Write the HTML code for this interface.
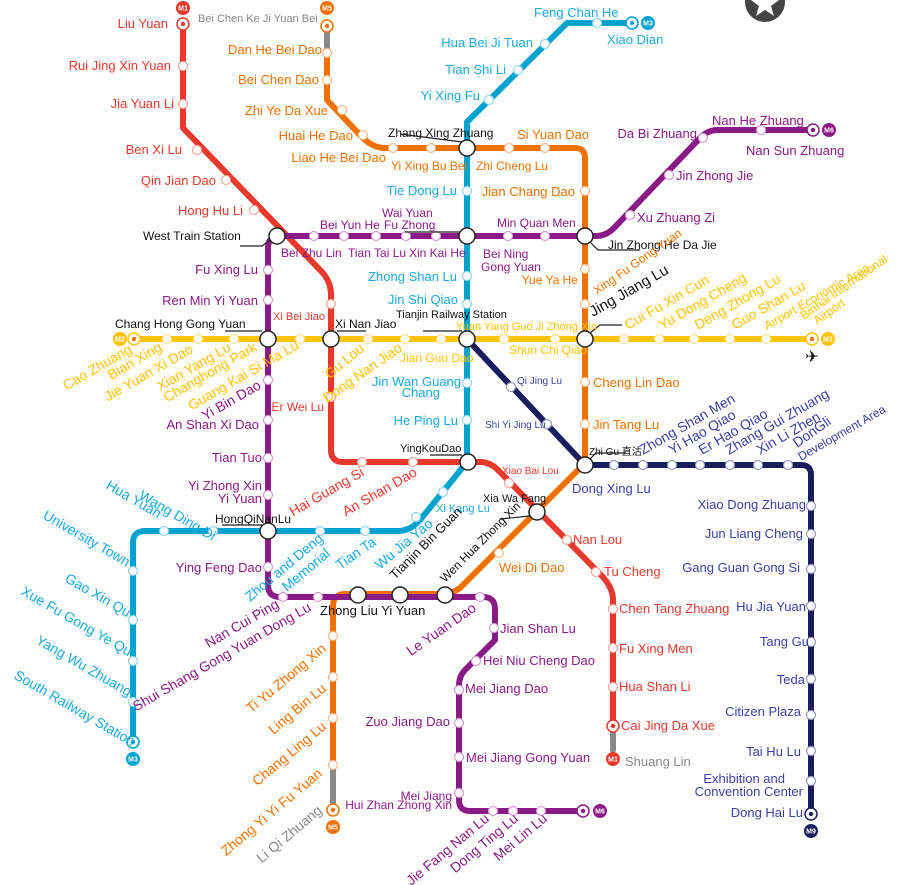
<!DOCTYPE html>
<html><head><meta charset="utf-8"><style>
html,body{margin:0;padding:0;background:#fff;}
svg{display:block;font-family:"Liberation Sans","DejaVu Sans",sans-serif;}
</style></head><body>
<svg width="900" height="885" viewBox="0 0 900 885" xmlns="http://www.w3.org/2000/svg">
<rect width="900" height="885" fill="#fff"/>
<circle cx="765" cy="2" r="20" fill="#444"/>
<polygon points="765,-10 769,0 779,0 771,6 774,16 765,10 756,16 759,6 751,0 761,0" fill="#fff"/>

<g fill="none" stroke-linejoin="round" stroke-linecap="round" stroke-width="6">
<path d="M632,23 L567,23 L467,122 L467,462 L420,520 Q410,531 398,531 L145,531 Q133,531 133,543 L133,742" stroke="#00a2cf"/>
<path d="M327,48 L327,100 L360,135 Q372,148 385,148 L575,148 Q585,148 585,158 L585,463 L460,588 Q452,594 440,594 L345,594 Q333,594 333,606 L333,770" stroke="#f07000"/>
<path d="M327,26 L327,48" stroke="#888"/>
<path d="M333,770 L333,810" stroke="#888"/>
<path d="M183,24 L183,128 L322,272 Q331,282 331,295 L331,450 Q331,462 343,462 L480,462 Q490,462 498,470 L602,576 Q613,588 613,600 L613,726" stroke="#e8392d"/>
<path d="M613,726 L613,750" stroke="#888"/>
<path d="M467,339 L585,465 L801,465 Q811,465 811,475 L811,814" stroke="#1b1d5c"/>
<path d="M134,339 L812,339" stroke="#fcc300"/>
<path d="M813,130 L717,130 Q708,130 700,138 L614,228 Q606,236 596,236 L280,236 Q268,236 268,248 L268,585 Q268,597 280,597 L483,597 Q495,597 495,609 L495,640 L465,670 Q459,676 459,686 L459,800 Q459,811 470,811 L583,811" stroke="#8a1a86"/>
</g>

<g fill="#fff" stroke-width="1.2">
<g stroke="#f3a39c">
<circle cx="183" cy="66" r="4.5"/><circle cx="183" cy="104" r="4.5"/><circle cx="197" cy="150" r="4.5"/><circle cx="226" cy="180" r="4.5"/><circle cx="254" cy="210" r="4.5"/><circle cx="331" cy="304" r="4.5"/><circle cx="331" cy="397" r="4.5"/><circle cx="362" cy="462" r="4.5"/><circle cx="413" cy="462" r="4.5"/><circle cx="509" cy="483" r="4.5"/><circle cx="567" cy="540" r="4.5"/><circle cx="596" cy="572" r="4.5"/><circle cx="613" cy="609" r="4.5"/><circle cx="613" cy="648" r="4.5"/><circle cx="613" cy="687" r="4.5"/>
</g>
<g stroke="#f8b98a">
<circle cx="327" cy="53" r="4.5"/><circle cx="327" cy="80" r="4.5"/><circle cx="342" cy="110" r="4.5"/><circle cx="363" cy="135" r="4.5"/><circle cx="393" cy="148" r="4.5"/><circle cx="431" cy="148" r="4.5"/><circle cx="509" cy="148" r="4.5"/><circle cx="545" cy="148" r="4.5"/><circle cx="585" cy="191" r="4.5"/><circle cx="585" cy="269" r="4.5"/><circle cx="585" cy="304" r="4.5"/><circle cx="585" cy="382" r="4.5"/><circle cx="585" cy="424" r="4.5"/><circle cx="499" cy="553" r="4.5"/><circle cx="333" cy="636" r="4.5"/><circle cx="333" cy="677" r="4.5"/><circle cx="333" cy="718" r="4.5"/><circle cx="333" cy="765" r="4.5"/>
</g>
<g stroke="#8fd6ee">
<circle cx="597" cy="23" r="4.5"/><circle cx="545" cy="44" r="4.5"/><circle cx="518" cy="70" r="4.5"/><circle cx="489" cy="100" r="4.5"/><circle cx="467" cy="191" r="4.5"/><circle cx="467" cy="276" r="4.5"/><circle cx="467" cy="304" r="4.5"/><circle cx="467" cy="383" r="4.5"/><circle cx="467" cy="420" r="4.5"/><circle cx="443" cy="492" r="4.5"/><circle cx="416" cy="517" r="4.5"/><circle cx="365" cy="531" r="4.5"/><circle cx="320" cy="531" r="4.5"/><circle cx="213" cy="531" r="4.5"/><circle cx="164" cy="531" r="4.5"/><circle cx="133" cy="571" r="4.5"/><circle cx="133" cy="620" r="4.5"/><circle cx="133" cy="661" r="4.5"/><circle cx="133" cy="702" r="4.5"/>
</g>
<g stroke="#fde28a">
<circle cx="167" cy="339" r="4.5"/><circle cx="198" cy="339" r="4.5"/><circle cx="234" cy="339" r="4.5"/><circle cx="300" cy="339" r="4.5"/><circle cx="368" cy="339" r="4.5"/><circle cx="405" cy="339" r="4.5"/><circle cx="441" cy="339" r="4.5"/><circle cx="504" cy="339" r="4.5"/><circle cx="555" cy="339" r="4.5"/><circle cx="624" cy="339" r="4.5"/><circle cx="659" cy="339" r="4.5"/><circle cx="694" cy="339" r="4.5"/><circle cx="730" cy="339" r="4.5"/><circle cx="766" cy="339" r="4.5"/>
</g>
<g stroke="#d79ad5">
<circle cx="761" cy="130" r="4.5"/><circle cx="703" cy="138" r="4.5"/><circle cx="669" cy="175" r="4.5"/><circle cx="630" cy="215" r="4.5"/><circle cx="545" cy="236" r="4.5"/><circle cx="508" cy="236" r="4.5"/><circle cx="436" cy="236" r="4.5"/><circle cx="406" cy="236" r="4.5"/><circle cx="376" cy="236" r="4.5"/><circle cx="344" cy="236" r="4.5"/><circle cx="314" cy="236" r="4.5"/><circle cx="268" cy="270" r="4.5"/><circle cx="268" cy="300" r="4.5"/><circle cx="268" cy="380" r="4.5"/><circle cx="268" cy="420" r="4.5"/><circle cx="268" cy="458" r="4.5"/><circle cx="268" cy="495" r="4.5"/><circle cx="268" cy="567" r="4.5"/><circle cx="283" cy="597" r="4.5"/><circle cx="318" cy="597" r="4.5"/><circle cx="480" cy="597" r="4.5"/><circle cx="494" cy="628" r="4.5"/><circle cx="476" cy="661" r="4.5"/><circle cx="459" cy="690" r="4.5"/><circle cx="459" cy="723" r="4.5"/><circle cx="459" cy="757" r="4.5"/><circle cx="459" cy="793" r="4.5"/><circle cx="493" cy="811" r="4.5"/><circle cx="513" cy="811" r="4.5"/><circle cx="541" cy="811" r="4.5"/>
</g>
<g stroke="#9a9ac0">
<circle cx="511" cy="387" r="4.5"/><circle cx="547" cy="424" r="4.5"/><circle cx="614" cy="465" r="4.5"/><circle cx="643" cy="465" r="4.5"/><circle cx="672" cy="465" r="4.5"/><circle cx="700" cy="465" r="4.5"/><circle cx="730" cy="465" r="4.5"/><circle cx="758" cy="465" r="4.5"/><circle cx="788" cy="465" r="4.5"/><circle cx="811" cy="506" r="4.5"/><circle cx="811" cy="534" r="4.5"/><circle cx="811" cy="569" r="4.5"/><circle cx="811" cy="606" r="4.5"/><circle cx="811" cy="642" r="4.5"/><circle cx="811" cy="679" r="4.5"/><circle cx="811" cy="715" r="4.5"/><circle cx="811" cy="751" r="4.5"/><circle cx="811" cy="781" r="4.5"/>
</g>
</g>

<g fill="#fff" stroke-width="1.5">
<circle cx="183" cy="24" r="6" stroke="#e8392d"/><circle cx="183" cy="24" r="2.2" fill="#e8392d"/>
<circle cx="613" cy="726" r="6" stroke="#e8392d"/><circle cx="613" cy="726" r="2.2" fill="#e8392d"/>
<circle cx="327" cy="26" r="6" stroke="#f07000"/><circle cx="327" cy="26" r="2.2" fill="#f07000"/>
<circle cx="333" cy="810" r="6" stroke="#f07000"/><circle cx="333" cy="810" r="2.2" fill="#f07000"/>
<circle cx="632" cy="23" r="6" stroke="#00a2cf"/><circle cx="632" cy="23" r="2.2" fill="#00a2cf"/>
<circle cx="133" cy="742" r="6" stroke="#00a2cf"/><circle cx="133" cy="742" r="2.2" fill="#00a2cf"/>
<circle cx="134" cy="339" r="6" stroke="#fcc300"/><circle cx="134" cy="339" r="2.2" fill="#f07000"/>
<circle cx="812" cy="339" r="6" stroke="#fcc300"/><circle cx="812" cy="339" r="2.2" fill="#f07000"/>
<circle cx="813" cy="130" r="6" stroke="#8a1a86"/><circle cx="813" cy="130" r="2.2" fill="#8a1a86"/>
<circle cx="583" cy="811" r="6" stroke="#8a1a86"/><circle cx="583" cy="811" r="2.2" fill="#8a1a86"/>
<circle cx="811" cy="814" r="6" stroke="#1b1d5c"/><circle cx="811" cy="814" r="2.2" fill="#1b1d5c"/>
</g>

<g fill="#fff" stroke="#222" stroke-width="1.5">
<circle cx="277" cy="236" r="8"/><circle cx="467" cy="148" r="8"/><circle cx="467" cy="236" r="8"/><circle cx="585" cy="236" r="8"/>
<circle cx="268" cy="339" r="8"/><circle cx="331" cy="339" r="8"/><circle cx="467" cy="339" r="8"/><circle cx="585" cy="339" r="8"/>
<circle cx="468" cy="462" r="8"/><circle cx="585" cy="465" r="8"/><circle cx="537" cy="512" r="8"/><circle cx="268" cy="531" r="8"/>
<circle cx="358" cy="595" r="8"/><circle cx="400" cy="595" r="8"/><circle cx="445" cy="595" r="8"/>
</g>

<g font-size="7" font-weight="bold" fill="#fff" text-anchor="middle">
<circle cx="183" cy="8" r="7" fill="#e8392d"/><text x="183" y="10.5">M1</text>
<circle cx="613" cy="759" r="7" fill="#e8392d"/><text x="613" y="761.5">M1</text>
<circle cx="327" cy="8" r="7" fill="#f07000"/><text x="327" y="10.5">M5</text>
<circle cx="333" cy="827" r="7" fill="#f07000"/><text x="333" y="829.5">M5</text>
<circle cx="648" cy="23" r="7" fill="#00a2cf"/><text x="648" y="25.5">M3</text>
<circle cx="133" cy="759" r="7" fill="#00a2cf"/><text x="133" y="761.5">M3</text>
<circle cx="120" cy="339" r="7" fill="#fcc300"/><text x="120" y="341.5">M2</text>
<circle cx="828" cy="339" r="7" fill="#fcc300"/><text x="828" y="341.5">M2</text>
<circle cx="829" cy="130" r="7" fill="#8a1a86"/><text x="829" y="132.5">M6</text>
<circle cx="600" cy="811" r="7" fill="#8a1a86"/><text x="600" y="813.5">M6</text>
<circle cx="811" cy="831" r="7" fill="#1b1d5c"/><text x="811" y="833.5">M9</text>
</g>
<text x="812" y="362" font-size="16" text-anchor="middle" fill="#111">✈</text>

<g stroke="#222" stroke-width="1.2" fill="none">
<path d="M240,246 L262,246 L270,240"/><path d="M405,232 L460,232"/><path d="M400,134 L462,142"/><path d="M590,242 L598,250 L640,250"/>
<path d="M225,331 L262,331"/><path d="M337,331 L366,331"/><path d="M423,331 L462,331"/><path d="M590,333 L600,325 L622,325"/>
<path d="M430,455 L462,455"/><path d="M590,459 L596,453 L626,453"/><path d="M500,519 L530,516"/><path d="M222,525 L262,525"/>
</g>

<g font-size="13">
<g fill="#e8392d" text-anchor="end">
<text x="168" y="28">Liu Yuan</text><text x="171" y="70">Rui Jing Xin Yuan</text><text x="174" y="108">Jia Yuan Li</text><text x="182" y="154">Ben Xi Lu</text><text x="216" y="185">Qin Jian Dao</text><text x="243" y="215">Hong Hu Li</text>
<text x="325" y="320" font-size="11">Xi Bei Jiao</text><text x="324" y="411" font-size="12">Er Wei Lu</text>
</g>
<g fill="#e8392d"><text x="502" y="474" font-size="10">Xiao Bai Lou</text><text x="573" y="544">Nan Lou</text><text x="604" y="576">Tu Cheng</text><text x="619" y="613">Chen Tang Zhuang</text><text x="619" y="653">Fu Xing Men</text><text x="619" y="691">Hua Shan Li</text><text x="621" y="730">Cai Jing Da Xue</text></g>
<text x="625" y="766" fill="#888">Shuang Lin</text>
<text x="198" y="22" fill="#888" font-size="11">Bei Chen Ke Ji Yuan Bei</text>
<g fill="#f07000" text-anchor="end">
<text x="322" y="54">Dan He Bei Dao</text><text x="319" y="84">Bei Chen Dao</text><text x="328" y="115">Zhi Ye Da Xue</text><text x="353" y="140">Huai He Dao</text><text x="386" y="162">Liao He Bei Dao</text><text x="575" y="196">Jian Chang Dao</text><text x="578" y="284" font-size="12">Yue Ya He</text>
</g>
<g fill="#f07000"><text x="517" y="139">Si Yuan Dao</text><text x="391" y="170" font-size="12">Yi Xing Bu Bei</text><text x="476" y="170" font-size="12">Zhi Cheng Lu</text><text x="593" y="387">Cheng Lin Dao</text><text x="593" y="429">Jin Tang Lu</text><text x="499" y="572">Wei Di Dao</text></g>
<g fill="#1aa9df"><text x="534" y="17">Feng Chan He</text><text x="607" y="44">Xiao Dian</text></g>
<g fill="#1aa9df" text-anchor="end"><text x="533" y="47">Hua Bei Ji Tuan</text><text x="506" y="74">Tian Shi Li</text><text x="480" y="100">Yi Xing Fu</text><text x="457" y="195">Tie Dong Lu</text><text x="457" y="281">Zhong Shan Lu</text><text x="458" y="304">Jin Shi Qiao</text><text x="461" y="386">Jin Wan Guang</text><text x="440" y="397">Chang</text><text x="458" y="425">He Ping Lu</text></g>
<text x="436" y="512" fill="#1aa9df" font-size="11">Xi Kang Lu</text>
<g fill="#8a1a86" text-anchor="end">
<text x="697" y="138">Da Bi Zhuang</text><text x="258" y="274">Fu Xing Lu</text><text x="258" y="305">Ren Min Yi Yuan</text><text x="259" y="429">An Shan Xi Dao</text><text x="262" y="462">Tian Tuo</text><text x="262" y="490">Yi Zhong Xin</text><text x="262" y="503">Yi Yuan</text><text x="262" y="572">Ying Feng Dao</text><text x="450" y="726">Zuo Jiang Dao</text><text x="452" y="800" font-size="12">Mei Jiang</text><text x="452" y="809" font-size="12">Hui Zhan Zhong Xin</text>
</g>
<g fill="#8a1a86">
<text x="712" y="125">Nan He Zhuang</text><text x="746" y="155">Nan Sun Zhuang</text><text x="676" y="180">Jin Zhong Jie</text><text x="637" y="222">Xu Zhuang Zi</text>
<text x="320" y="229" font-size="12">Bei Yun He</text><text x="382" y="217" font-size="12">Wai Yuan</text><text x="384" y="229" font-size="12">Fu Zhong</text><text x="497" y="227" font-size="12">Min Quan Men</text>
<text x="281" y="257" font-size="12">Bei Zhu Lin</text><text x="348" y="257" font-size="12">Tian Tai Lu</text><text x="409" y="257" font-size="12">Xin Kai He</text><text x="483" y="258" font-size="12">Bei Ning</text><text x="481" y="271" font-size="12">Gong Yuan</text>
<text x="500" y="633">Jian Shan Lu</text><text x="483" y="665">Hei Niu Cheng Dao</text><text x="465" y="693">Mei Jiang Dao</text><text x="466" y="762">Mei Jiang Gong Yuan</text>
</g>
<g fill="#fcc300"><text x="456" y="330" font-size="11">Yuan Yang Guo Ji Zhong Xin</text><text x="509" y="354" font-size="12">Shun Chi Qiao</text><text x="400" y="362" font-size="12">Jian Guo Dao</text></g>
<g fill="#3a3fa0"><text x="517" y="384" font-size="10">Qi Jing Lu</text><text x="485" y="428" font-size="10">Shi Yi Jing Lu</text><text x="572" y="493">Dong Xing Lu</text><text x="785" y="783" text-anchor="end">Exhibition and</text><text x="803" y="796" text-anchor="end">Convention Center</text></g>
<g fill="#3a3fa0" text-anchor="end"><text x="806" y="509">Xiao Dong Zhuang</text><text x="803" y="538">Jun Liang Cheng</text><text x="800" y="572">Gang Guan Gong Si</text><text x="806" y="611">Hu Jia Yuan</text><text x="809" y="646">Tang Gu</text><text x="805" y="684">Teda</text><text x="801" y="716">Citizen Plaza</text><text x="801" y="756">Tai Hu Lu</text><text x="803" y="817">Dong Hai Lu</text></g>
<g fill="#111">
<text x="143" y="240" font-size="12">West Train Station</text><text x="388" y="137" font-size="12">Zhang Xing Zhuang</text><text x="608" y="249" font-size="12">Jin Zhong He Da Jie</text>
<text x="115" y="328" font-size="12">Chang Hong Gong Yuan</text><text x="335" y="328" font-size="12">Xi Nan Jiao</text><text x="396" y="318" font-size="11">Tianjin Railway Station</text>
<text x="400" y="452" font-size="11">YingKouDao</text><text x="483" y="502" font-size="11">Xia Wa Fang</text><text x="589" y="455" font-size="10">Zhi Gu 直沽</text><text x="215" y="523" font-size="12">HongQiNanLu</text><text x="320" y="615" font-size="13">Zhong Liu Yi Yuan</text>
</g>
</g>

<g font-size="14">
<g fill="#fcc300">
<text transform="translate(133,352) rotate(-30)" text-anchor="end">Cao Zhuang</text>
<text transform="translate(163,350) rotate(-30)" text-anchor="end">Bian Xing</text>
<text transform="translate(194,352) rotate(-30)" text-anchor="end">Jie Yuan Xi Dao</text>
<text transform="translate(232,350) rotate(-30)" text-anchor="end">Xian Yang Lu</text>
<text transform="translate(258,350) rotate(-30)" text-anchor="end">Changhong Park</text>
<text transform="translate(300,348) rotate(-30)" text-anchor="end">Guang Kai Si Ma Lu</text>
<text transform="translate(365,350) rotate(-40)" text-anchor="end">Gu Lou</text>
<text transform="translate(403,350) rotate(-35)" text-anchor="end">Dong Nan Jiao</text>
<text transform="translate(628,330) rotate(-30)">Cui Fu Xin Cun</text>
<text transform="translate(662,330) rotate(-30)">Yu Dong Cheng</text>
<text transform="translate(698,330) rotate(-30)">Deng Zhong Lu</text>
<text transform="translate(735,330) rotate(-30)">Guo Shan Lu</text>
<text transform="translate(767,330) rotate(-30)" font-size="12">Airport Economic Area</text>
<text transform="translate(804,320) rotate(-35)" font-size="12">Binhai International</text>
<text transform="translate(817,325) rotate(-35)" font-size="12">Airport</text>
</g>
<text transform="translate(597,295) rotate(-35)" fill="#f07000" font-size="12">Xing Fu Gong Yuan</text>
<text transform="translate(593,317) rotate(-30)" fill="#111" font-size="15">Jing Jiang Lu</text>
<g fill="#8a1a86"><text transform="translate(262,388) rotate(-30)" text-anchor="end">Yi Bin Dao</text>
<text transform="translate(280,607) rotate(-30)" text-anchor="end">Nan Cui Ping</text>
<text transform="translate(312,610) rotate(-30)" text-anchor="end">Shui Shang Gong Yuan Dong Lu</text>
<text transform="translate(477,610) rotate(-35)" text-anchor="end">Le Yuan Dao</text>
<text transform="translate(490,820) rotate(-40)" text-anchor="end">Jie Fang Nan Lu</text>
<text transform="translate(519,820) rotate(-40)" text-anchor="end">Dong Ting Lu</text>
<text transform="translate(548,820) rotate(-40)" text-anchor="end">Mei Lin Lu</text></g>
<g fill="#e8392d"><text transform="translate(365,475) rotate(-30)" text-anchor="end">Hai Guang Si</text>
<text transform="translate(418,475) rotate(-30)" text-anchor="end">An Shan Dao</text></g>
<g fill="#1aa9df">
<text transform="translate(138,498) rotate(30)">Wang Ding Di</text>
<text transform="translate(105,488) rotate(30)">Hua Yuan</text>
<text transform="translate(42,518) rotate(30)">University Town</text>
<text transform="translate(64,581) rotate(30)">Gao Xin Qu</text>
<text transform="translate(20,594) rotate(30)">Xue Fu Gong Ye Qu</text>
<text transform="translate(35,643) rotate(30)">Yang Wu Zhuang</text>
<text transform="translate(13,678) rotate(30)">South Railway Station</text>
<text transform="translate(250,602) rotate(-40)">Zhou and Deng</text>
<text transform="translate(287,592) rotate(-40)">Memorial</text>
<text transform="translate(340,570) rotate(-35)">Tian Ta</text>
<text transform="translate(380,570) rotate(-40)">Wu Jia Yao</text>
</g>
<g fill="#111"><text transform="translate(395,580) rotate(-45)" font-size="13">Tianjin Bin Guan</text>
<text transform="translate(445,583) rotate(-45)" font-size="12">Wen Hua Zhong Xin</text></g>
<g fill="#f07000"><text transform="translate(327,650) rotate(-40)" text-anchor="end">Ti Yu Zhong Xin</text>
<text transform="translate(327,690) rotate(-40)" text-anchor="end">Ling Bin Lu</text>
<text transform="translate(327,728) rotate(-40)" text-anchor="end">Chang Ling Lu</text>
<text transform="translate(323,775) rotate(-40)" text-anchor="end">Zhong Yi Yi Fu Yuan</text></g>
<text transform="translate(323,812) rotate(-40)" text-anchor="end" fill="#888">Li Qi Zhuang</text>
<g fill="#3a3fa0">
<text transform="translate(643,455) rotate(-30)">Zhong Shan Men</text>
<text transform="translate(672,455) rotate(-30)">Yi Hao Qiao</text>
<text transform="translate(702,455) rotate(-30)">Er Hao Qiao</text>
<text transform="translate(729,455) rotate(-30)">Zhang Gui Zhuang</text>
<text transform="translate(760,455) rotate(-30)">Xin Li Zhen</text>
<text transform="translate(797,448) rotate(-35)">DonGli</text>
<text transform="translate(801,461) rotate(-30)" font-size="12">Development Area</text>
</g>
</g>
</svg>
</body></html>
